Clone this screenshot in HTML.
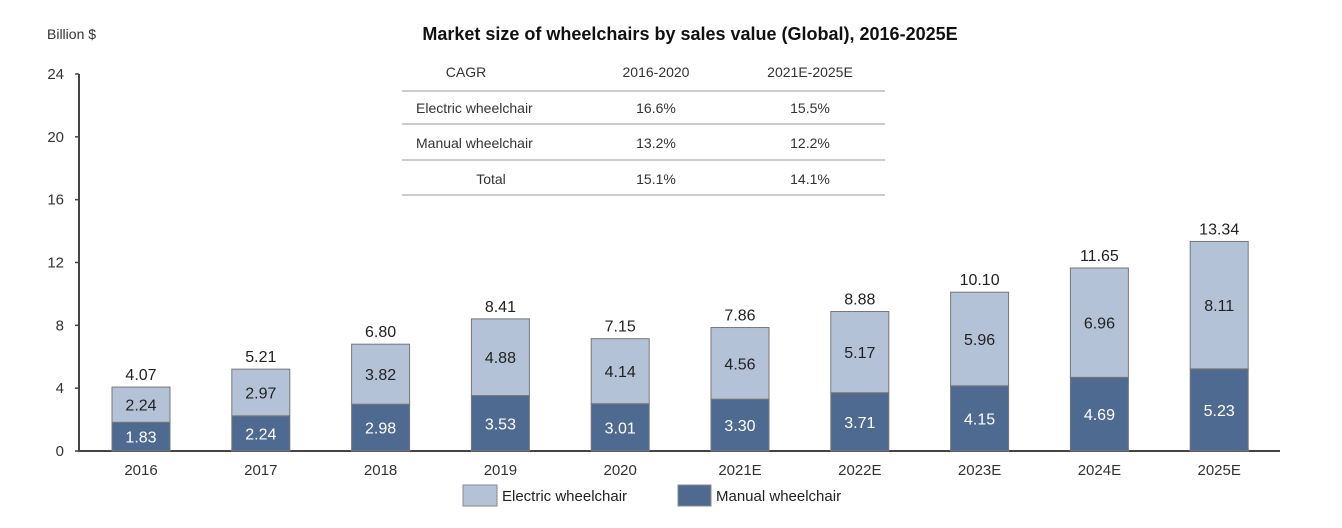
<!DOCTYPE html>
<html><head><meta charset="utf-8"><style>
body{margin:0;background:#fff;font-family:"Liberation Sans",Arial,sans-serif;}
svg{display:block}
</style></head><body>
<svg id="chart" width="1342" height="528" viewBox="0 0 1342 528" xmlns="http://www.w3.org/2000/svg" font-family="Liberation Sans, Arial, sans-serif">
<text x="47" y="39" font-size="14" fill="#333">Billion $</text>
<text x="690" y="40" font-size="18" font-weight="bold" text-anchor="middle" fill="#111">Market size of wheelchairs by sales value (Global), 2016-2025E</text>
<g font-size="14" fill="#333">
<line x1="402" x2="885" y1="91" y2="91" stroke="#bbb" stroke-width="1.5"/>
<line x1="402" x2="885" y1="124" y2="124" stroke="#bbb" stroke-width="1.5"/>
<line x1="402" x2="885" y1="160" y2="160" stroke="#bbb" stroke-width="1.5"/>
<line x1="402" x2="885" y1="195" y2="195" stroke="#bbb" stroke-width="1.5"/>
<text x="466" y="77" text-anchor="middle">CAGR</text>
<text x="656" y="77" text-anchor="middle">2016-2020</text>
<text x="810" y="77" text-anchor="middle">2021E-2025E</text>
<text x="416" y="113">Electric wheelchair</text>
<text x="656" y="113" text-anchor="middle">16.6%</text>
<text x="810" y="113" text-anchor="middle">15.5%</text>
<text x="416" y="148">Manual  wheelchair</text>
<text x="656" y="148" text-anchor="middle">13.2%</text>
<text x="810" y="148" text-anchor="middle">12.2%</text>
<text x="491" y="184" text-anchor="middle">Total</text>
<text x="656" y="184" text-anchor="middle">15.1%</text>
<text x="810" y="184" text-anchor="middle">14.1%</text>
</g>
<g id="axes"></g>
<g id="bars"></g>
<g font-size="15" fill="#222">
<rect x="463" y="485" width="34" height="21" fill="#b4c2d8" stroke="#888"/>
<text x="502" y="501">Electric wheelchair</text>
<rect x="678" y="485" width="33" height="21" fill="#4f6a90" stroke="#888"/>
<text x="716" y="501">Manual wheelchair</text>
</g>
</svg>
<script>
const categories=["2016","2017","2018","2019","2020","2021E","2022E","2023E","2024E","2025E"];
const manual=[1.83,2.24,2.98,3.53,3.01,3.30,3.71,4.15,4.69,5.23];
const electric=[2.24,2.97,3.82,4.88,4.14,4.56,5.17,5.96,6.96,8.11];
const totals=[4.07,5.21,6.80,8.41,7.15,7.86,8.88,10.10,11.65,13.34];
const yTicks=[0,4,8,16,12,20,24];
const NS="http://www.w3.org/2000/svg";
const y=v=>451-v*(377/24);
const x=i=>141+i*119.8;
const bw=58;
function mk(tag,attrs,parent,txt){const e=document.createElementNS(NS,tag);for(const k in attrs)e.setAttribute(k,attrs[k]);if(txt!==undefined)e.textContent=txt;parent.appendChild(e);return e;}
const ax=document.getElementById('axes'),bg=document.getElementById('bars');
let a=mk('line',{x1:79,x2:79,y1:y(24),y2:y(0),stroke:'#444','stroke-width':2},ax);


a=mk('line',{x1:78,x2:1280,y1:y(0),y2:y(0),stroke:'#444','stroke-width':2},ax);


yTicks.forEach(t=>{
 mk('line',{x1:75,x2:79,y1:y(t),y2:y(t),stroke:'#444','stroke-width':1.5},ax);
 const l=mk('text',{x:64,y:y(t)+5,'font-size':15,'text-anchor':'end',fill:'#333'},ax,String(t));
 
 
});
categories.forEach((c,i)=>{
 const cx=x(i),t=manual[i]+electric[i];
 const rm=mk('rect',{x:cx-bw/2,y:y(manual[i]),width:bw,height:y(0)-y(manual[i]),fill:'#4f6a90',stroke:'#777','stroke-width':1},bg);
 
 
 const re=mk('rect',{x:cx-bw/2,y:y(t),width:bw,height:y(manual[i])-y(t),fill:'#b4c2d8',stroke:'#777','stroke-width':1},bg);
 
 
 let l=mk('text',{x:cx,y:(y(0)+y(manual[i]))/2+6,'font-size':16,'text-anchor':'middle',fill:'#fff'},bg,manual[i].toFixed(2));
 
 
 l=mk('text',{x:cx,y:(y(manual[i])+y(t))/2+6,'font-size':16,'text-anchor':'middle',fill:'#222'},bg,electric[i].toFixed(2));
 
 
 l=mk('text',{x:cx,y:y(t)-7,'font-size':16,'text-anchor':'middle',fill:'#222'},bg,totals[i].toFixed(2));
 
 
 l=mk('text',{x:cx,y:475,'font-size':15,'text-anchor':'middle',fill:'#333'},bg,c);
 
 
});
</script>
</body></html>
